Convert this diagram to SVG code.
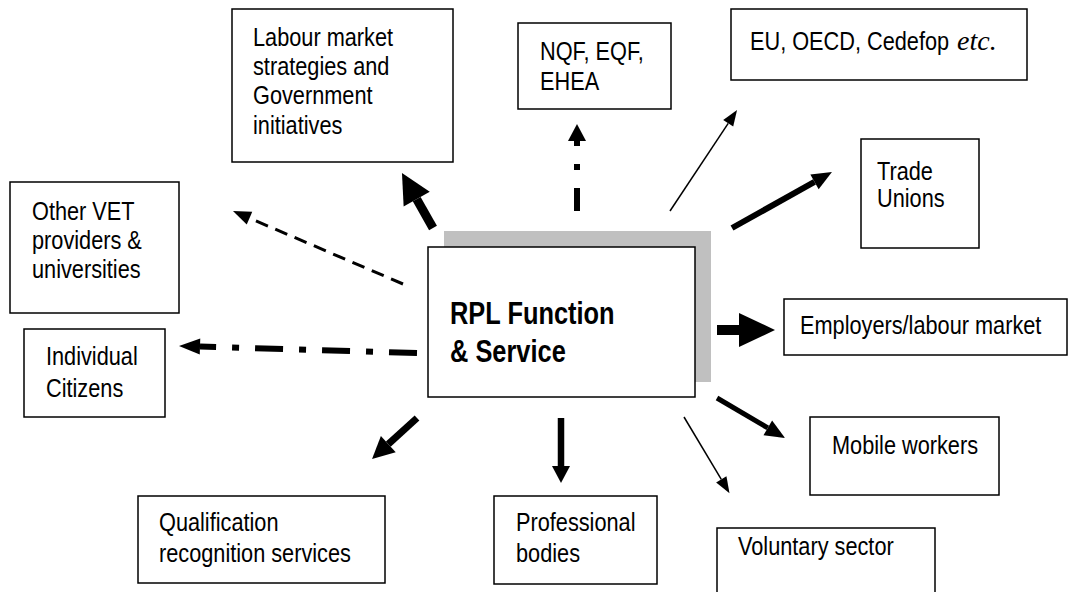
<svg xmlns="http://www.w3.org/2000/svg" width="1069" height="592" viewBox="0 0 1069 592">
  <style>
    .box { fill: #fff; stroke: #000; stroke-width: 1.5; }
    .t { font-family: "Liberation Sans", Arial, sans-serif; font-size: 26.5px; fill: #000; }
    .tb { font-family: "Liberation Sans", Arial, sans-serif; font-size: 31px; font-weight: bold; fill: #000; }
    .it { font-family: "Liberation Serif", "Times New Roman", serif; font-style: italic; font-size: 28px; fill: #000; }
    .a { stroke: #000; fill: none; stroke-linecap: butt; }
  </style>
  <defs>
    <marker id="hLab" markerUnits="userSpaceOnUse" markerWidth="40" markerHeight="40" refX="0" refY="0" orient="auto" overflow="visible"><path d="M0,-15 L30,0 L0,15 z" fill="#000"/></marker>
    <marker id="hEmp" markerUnits="userSpaceOnUse" markerWidth="40" markerHeight="40" refX="0" refY="0" orient="auto" overflow="visible"><path d="M0,-17 L36,0 L0,17 z" fill="#000"/></marker>
    <marker id="hMed" markerUnits="userSpaceOnUse" markerWidth="40" markerHeight="40" refX="0" refY="0" orient="auto" overflow="visible"><path d="M0,-9 L17,0 L0,9 z" fill="#000"/></marker>
    <marker id="hThin" markerUnits="userSpaceOnUse" markerWidth="40" markerHeight="40" refX="0" refY="0" orient="auto" overflow="visible"><path d="M0,-6 L16,0 L0,6 z" fill="#000"/></marker>
    <marker id="hTrade" markerUnits="userSpaceOnUse" markerWidth="40" markerHeight="40" refX="0" refY="0" orient="auto" overflow="visible"><path d="M0,-8.5 L20,0 L0,8.5 z" fill="#000"/></marker>
    <marker id="hQual" markerUnits="userSpaceOnUse" markerWidth="40" markerHeight="40" refX="0" refY="0" orient="auto" overflow="visible"><path d="M0,-11 L22,0 L0,11 z" fill="#000"/></marker>
    <marker id="hVet" markerUnits="userSpaceOnUse" markerWidth="40" markerHeight="40" refX="0" refY="0" orient="auto" overflow="visible"><path d="M0,-7 L18,0 L0,7 z" fill="#000"/></marker>
    <marker id="hInd" markerUnits="userSpaceOnUse" markerWidth="40" markerHeight="40" refX="0" refY="0" orient="auto" overflow="visible"><path d="M0,-8 L21,0 L0,8 z" fill="#000"/></marker>
  </defs>

  <g id="connectors">
    <line class="a" x1="433" y1="228" x2="416.7" y2="199.1" stroke-width="9" marker-end="url(#hLab)"/>
    <line class="a" x1="577" y1="211" x2="577" y2="141" stroke-width="6" stroke-dasharray="23 18 6 18" marker-end="url(#hMed)"/>
    <line class="a" x1="670" y1="211" x2="728.2" y2="123.3" stroke-width="1.5" marker-end="url(#hThin)"/>
    <line class="a" x1="732" y1="228" x2="814.5" y2="181.8" stroke-width="6" marker-end="url(#hTrade)"/>
    <line class="a" x1="717" y1="330" x2="739" y2="330" stroke-width="10" marker-end="url(#hEmp)"/>
    <line class="a" x1="717" y1="398" x2="767.8" y2="427.9" stroke-width="5" marker-end="url(#hTrade)"/>
    <line class="a" x1="684" y1="417" x2="721.3" y2="479.4" stroke-width="1.5" marker-end="url(#hThin)"/>
    <line class="a" x1="561" y1="418" x2="561" y2="466" stroke-width="6.5" marker-end="url(#hMed)"/>
    <line class="a" x1="417" y1="418" x2="388.3" y2="444.2" stroke-width="7" marker-end="url(#hQual)"/>
    <line class="a" x1="403" y1="284" x2="249.5" y2="218.1" stroke-width="3" stroke-dasharray="13 8" marker-end="url(#hVet)"/>
    <line class="a" x1="417" y1="353" x2="200" y2="346.6" stroke-width="6" stroke-dasharray="28 16 7 16" marker-end="url(#hInd)"/>
  </g>

  <g id="rpl">
    <rect x="444" y="231" width="267" height="151" fill="#c0c0c0"/>
    <rect class="box" x="428" y="247" width="267" height="150"/>
    <text class="tb" transform="scale(0.82 1)" x="548.78" y="324">RPL Function</text>
    <text class="tb" transform="scale(0.82 1)" x="548.78" y="362">&amp; Service</text>
  </g>

  <g id="labour">
    <rect class="box" x="232" y="9" width="221" height="153"/>
    <text class="t" transform="scale(0.82 1)" x="308.54" y="46">Labour market</text>
    <text class="t" transform="scale(0.82 1)" x="308.54" y="75">strategies and</text>
    <text class="t" transform="scale(0.82 1)" x="308.54" y="104">Government</text>
    <text class="t" transform="scale(0.82 1)" x="308.54" y="134">initiatives</text>
  </g>

  <g id="nqf">
    <rect class="box" x="518" y="23" width="153" height="86"/>
    <text class="t" transform="scale(0.82 1)" x="658.54" y="60">NQF, EQF,</text>
    <text class="t" transform="scale(0.82 1)" x="658.54" y="90">EHEA</text>
  </g>

  <g id="eu">
    <rect class="box" x="731" y="9" width="296" height="71"/>
    <text class="t" transform="scale(0.82 1)" x="914.63" y="50">EU, OECD, Cedefop</text>
    <text class="it" x="957" y="50">etc.</text>
  </g>

  <g id="trade">
    <rect class="box" x="861" y="139" width="118" height="109"/>
    <text class="t" transform="scale(0.82 1)" x="1069.51" y="180">Trade</text>
    <text class="t" transform="scale(0.82 1)" x="1069.51" y="207">Unions</text>
  </g>

  <g id="othervet">
    <rect class="box" x="10" y="182" width="169" height="131"/>
    <text class="t" transform="scale(0.82 1)" x="39.02" y="220">Other VET</text>
    <text class="t" transform="scale(0.82 1)" x="39.02" y="249">providers &amp;</text>
    <text class="t" transform="scale(0.82 1)" x="39.02" y="278">universities</text>
  </g>

  <g id="individual">
    <rect class="box" x="24" y="329" width="141" height="88"/>
    <text class="t" transform="scale(0.82 1)" x="56.10" y="365">Individual</text>
    <text class="t" transform="scale(0.82 1)" x="56.10" y="397">Citizens</text>
  </g>

  <g id="employers">
    <rect class="box" x="784" y="299" width="283" height="56"/>
    <text class="t" transform="scale(0.82 1)" x="975.61" y="334">Employers/labour market</text>
  </g>

  <g id="mobile">
    <rect class="box" x="810" y="417" width="189" height="78"/>
    <text class="t" transform="scale(0.82 1)" x="1014.63" y="454">Mobile workers</text>
  </g>

  <g id="qualification">
    <rect class="box" x="138" y="496" width="247" height="87"/>
    <text class="t" transform="scale(0.82 1)" x="193.90" y="531">Qualification</text>
    <text class="t" transform="scale(0.82 1)" x="193.90" y="562">recognition services</text>
  </g>

  <g id="professional">
    <rect class="box" x="494" y="496" width="163" height="88"/>
    <text class="t" transform="scale(0.82 1)" x="629.27" y="531">Professional</text>
    <text class="t" transform="scale(0.82 1)" x="629.27" y="562">bodies</text>
  </g>

  <g id="voluntary">
    <rect class="box" x="717" y="528" width="218" height="80"/>
    <text class="t" transform="scale(0.82 1)" x="900" y="555">Voluntary sector</text>
  </g>
</svg>
